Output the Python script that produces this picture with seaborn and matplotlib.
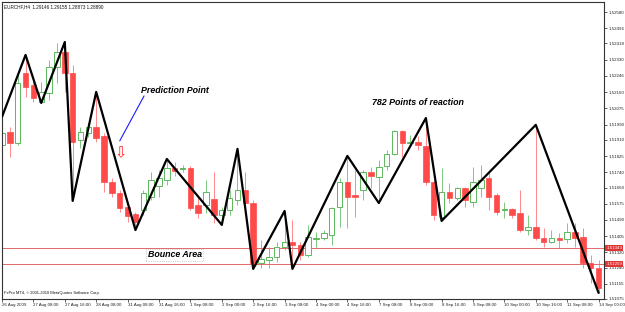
import matplotlib
matplotlib.use("Agg")
import matplotlib.pyplot as plt
import matplotlib.transforms as mtransforms
import pandas as pd
import seaborn as sns

SYMBOL_INFO = "EURCHF,H4  1.29146 1.29155 1.28873 1.28890"
COPYRIGHT = "FxPro MT4, \u00a9 2001-2010 MetaQuotes Software Corp."

# H4 bars, one per 4 hours
bar_open = [
    1.51884, 1.51952, 1.51894, 1.52262, 1.52199, 1.52109, 1.52157, 1.52293, 1.52372, 1.52262,
    1.51910, 1.51947, 1.51978, 1.51931, 1.51689, 1.51632, 1.51558, 1.51521, 1.51542, 1.51611,
    1.51668, 1.51700, 1.51763, 1.51758, 1.51763, 1.51569, 1.51569, 1.51600, 1.51516, 1.51542,
    1.51595, 1.51647, 1.51579, 1.51264, 1.51280, 1.51296, 1.51348, 1.51374, 1.51359, 1.51306,
    1.51390, 1.51395, 1.51411, 1.51558, 1.51689, 1.51621, 1.51647, 1.51742, 1.51716, 1.51773,
    1.51836, 1.51957, 1.51894, 1.51899, 1.51878, 1.51689, 1.51506, 1.51637, 1.51605, 1.51658,
    1.51584, 1.51658, 1.51710, 1.51621, 1.51542, 1.51548, 1.51527, 1.51437, 1.51453, 1.51395,
    1.51374, 1.51395, 1.51390, 1.51427, 1.51401, 1.51264, 1.51238,
]
bar_high = [
    1.52031, 1.51978, 1.52262, 1.52356, 1.52225, 1.52214, 1.52330, 1.52419, 1.52424, 1.52304,
    1.51978, 1.51999, 1.52162, 1.51947, 1.51710, 1.51647, 1.51569, 1.51532, 1.51647, 1.51742,
    1.51752, 1.51810, 1.51794, 1.51779, 1.51773, 1.51621, 1.51700, 1.51742, 1.51558, 1.51647,
    1.51863, 1.51742, 1.51595, 1.51385, 1.51348, 1.51374, 1.51537, 1.51490, 1.51374, 1.51464,
    1.51427, 1.51437, 1.51558, 1.51710, 1.51826, 1.51752, 1.51752, 1.51768, 1.51805, 1.51857,
    1.51962, 1.51962, 1.51936, 1.51931, 1.52025, 1.51700, 1.51763, 1.51684, 1.51663, 1.51663,
    1.51768, 1.51779, 1.51737, 1.51632, 1.51584, 1.51553, 1.51647, 1.51516, 1.51989, 1.51448,
    1.51437, 1.51422, 1.51474, 1.51474, 1.51448, 1.51306, 1.51280,
]
bar_low = [
    1.51857, 1.51821, 1.51884, 1.52136, 1.52109, 1.52104, 1.52120, 1.52209, 1.52162, 1.51590,
    1.51868, 1.51926, 1.51899, 1.51637, 1.51611, 1.51532, 1.51479, 1.51437, 1.51516, 1.51595,
    1.51611, 1.51674, 1.51721, 1.51742, 1.51542, 1.51500, 1.51527, 1.51474, 1.51464, 1.51516,
    1.51569, 1.51558, 1.51233, 1.51238, 1.51238, 1.51269, 1.51332, 1.51233, 1.51280, 1.51296,
    1.51348, 1.51385, 1.51359, 1.51453, 1.51448, 1.51506, 1.51595, 1.51658, 1.51579, 1.51752,
    1.51831, 1.51821, 1.51873, 1.51857, 1.51674, 1.51490, 1.51485, 1.51579, 1.51595, 1.51558,
    1.51558, 1.51611, 1.51542, 1.51516, 1.51500, 1.51500, 1.51427, 1.51411, 1.51385, 1.51348,
    1.51369, 1.51343, 1.51369, 1.51348, 1.51238, 1.51159, 1.51107,
]
bar_close = [
    1.51947, 1.51894, 1.52209, 1.52188, 1.52130, 1.52162, 1.52293, 1.52372, 1.52262, 1.51899,
    1.51952, 1.51978, 1.51920, 1.51689, 1.51632, 1.51553, 1.51511, 1.51479, 1.51632, 1.51700,
    1.51710, 1.51763, 1.51747, 1.51763, 1.51553, 1.51527, 1.51637, 1.51516, 1.51542, 1.51605,
    1.51647, 1.51579, 1.51264, 1.51285, 1.51296, 1.51348, 1.51374, 1.51359, 1.51306, 1.51401,
    1.51395, 1.51422, 1.51553, 1.51689, 1.51611, 1.51611, 1.51742, 1.51721, 1.51768, 1.51836,
    1.51957, 1.51894, 1.51899, 1.51884, 1.51689, 1.51516, 1.51637, 1.51605, 1.51658, 1.51595,
    1.51689, 1.51700, 1.51611, 1.51532, 1.51548, 1.51516, 1.51437, 1.51453, 1.51395, 1.51374,
    1.51395, 1.51385, 1.51427, 1.51395, 1.51264, 1.51238, 1.51133,
]

# zigzag indicator turning points (bar index, price)
zigzag_bar = [0, 3, 5, 8, 9, 12, 17, 21, 28, 30, 32, 36, 37, 44, 48, 54, 56, 68, 76]
zigzag_price = [
    1.52031, 1.52356, 1.52104, 1.52424, 1.51590, 1.52162, 1.51437, 1.51810, 1.51464, 1.51863,
    1.51233, 1.51537, 1.51233, 1.51826, 1.51579, 1.52025, 1.51485, 1.51989, 1.51107,
]

level_prices = [1.51343, 1.51259]

date_labels = [
    "26 Aug 2009", "27 Aug 08:00", "27 Aug 16:00", "28 Aug 08:00", "31 Aug 08:00",
    "31 Aug 16:00", "1 Sep 08:00", "2 Sep 00:00", "2 Sep 16:00", "3 Sep 08:00",
    "4 Sep 00:00", "4 Sep 16:00", "7 Sep 08:00", "8 Sep 00:00", "8 Sep 16:00",
    "9 Sep 08:00", "10 Sep 00:00", "10 Sep 16:00", "11 Sep 08:00", "14 Sep 00:00",
]
price_labels = [
    "1.52580", "1.52496", "1.52418", "1.52330", "1.52246", "1.52160", "1.52075",
    "1.51990", "1.51910", "1.51825", "1.51740", "1.51660", "1.51575", "1.51490",
    "1.51405", "1.51320", "1.51240", "1.51155", "1.51075",
]

# annotations (bar index, price)
PREDICTION_TEXT = (22.0, 1.52172)
PREDICTION_LINE = ([15.0, 18.1], [1.51905, 1.52141])
PREDICTION_ARROW = (15.1, 1.51842)
REACTION_TEXT = (53.0, 1.52104)
BOUNCE_TEXT = (22.0, 1.51306)

UP_EDGE = "#5cb85c"
UP_WICK = "#7cc87c"
DOWN_FACE = "#ff4a4a"
DOWN_WICK = "#ff8a8a"

candles = pd.DataFrame({
    "open": bar_open,
    "high": bar_high,
    "low": bar_low,
    "close": bar_close,
})
candles["bar"] = range(len(candles))
candles["up"] = candles["close"] >= candles["open"]

sns.set_theme(style="white")
plt.rcParams["font.family"] = ["Liberation Sans", "DejaVu Sans"]

fig = plt.figure(figsize=(6.25, 3.12), dpi=100)
ax = fig.add_axes([2 / 625, 13 / 312, 602 / 625, 297 / 312])

for up, grp in candles.groupby("up"):
    body_low = grp[["open", "close"]].min(axis=1)
    body_h = (grp["close"] - grp["open"]).abs()
    if up:
        ax.vlines(grp["bar"], grp["low"], grp["high"], color=UP_WICK, lw=0.7, zorder=1)
        ax.bar(grp["bar"], body_h, bottom=body_low, width=0.7, color="white",
               edgecolor=UP_EDGE, linewidth=0.7, zorder=2)
    else:
        ax.vlines(grp["bar"], grp["low"], grp["high"], color=DOWN_WICK, lw=0.7, zorder=1)
        ax.bar(grp["bar"], body_h, bottom=body_low, width=0.7, color=DOWN_FACE,
               edgecolor=DOWN_FACE, linewidth=0.5, zorder=2)

for p in level_prices:
    ax.axhline(p, color="#e06a6a", lw=0.7, zorder=1)

sns.lineplot(x=zigzag_bar, y=zigzag_price, color="black", linewidth=1.6,
             sort=False, estimator=None, ax=ax, zorder=3)

ax.set_xlim(0.0, 76.69)
ax.set_ylim(1.51075, 1.52634)

# annotations
bold_it = dict(fontsize=6.4, fontweight="bold", style="italic", color="black")
ax.text(*PREDICTION_TEXT, "Prediction Point", ha="center", va="center", **bold_it)
ax.plot(*PREDICTION_LINE, color="#1a1aff", lw=0.8)
ax.text(*PREDICTION_ARROW, "\u21e9", color="#ff2020", fontsize=10.5, ha="center", va="center",
        family="DejaVu Sans")
ax.text(*REACTION_TEXT, "782 Points of reaction", ha="center", va="center", **bold_it)
ax.text(*BOUNCE_TEXT, "Bounce Area", ha="center", va="center",
        bbox=dict(boxstyle="square,pad=0.2", fc="none", ec="#b8b8b8", lw=0.6, ls=":"),
        **bold_it)

# axes look like the terminal window
ax.yaxis.tick_right()
ax.set_yticks([float(s) for s in price_labels])
ax.set_yticklabels(price_labels)
ax.set_xticks(list(range(0, 77, 4)))
ax.set_xticklabels(date_labels, ha="left")
ax.tick_params(axis="y", length=2, width=0.5, pad=1.5, labelsize=3.2, colors="#222222", right=True)
ax.tick_params(axis="x", length=2, width=0.5, pad=1.0, labelsize=3.2, colors="#222222", bottom=True)
ax.set_xlabel("")
ax.set_ylabel("")
for s in ax.spines.values():
    s.set_color("#333333")
    s.set_linewidth(0.8)

# red price markers on the right scale
trans = mtransforms.blended_transform_factory(ax.transAxes, ax.transData)
for p in level_prices:
    ax.text(1.004, p, f"{p:.5f}", transform=trans, fontsize=3.2, color="white",
            va="center", ha="left", clip_on=False,
            bbox=dict(boxstyle="square,pad=0.25", fc="#e03535", ec="none"))

fig.text(4 / 625, 1 - 7 / 312, SYMBOL_INFO, fontsize=3.3, va="center", color="#111111")
fig.text(4 / 625, 1 - 293 / 312, COPYRIGHT, fontsize=2.9, va="center", color="#111111")

fig.savefig("out.png", dpi=100)
